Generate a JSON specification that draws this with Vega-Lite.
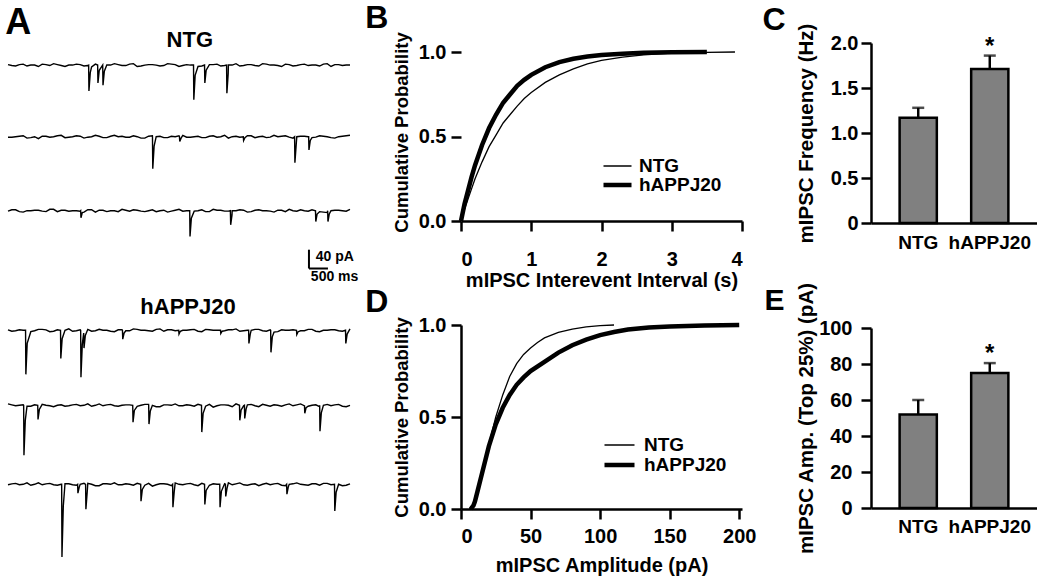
{
"$schema": "https://vega.github.io/schema/vega-lite/v6.json",
"background": "white",
"padding": {"left": 5, "top": 2, "right": 0, "bottom": 0},
"config": {
  "view": {"stroke": null},
  "font": "Liberation Sans",
  "title": {"font": "Liberation Sans", "fontWeight": "bold", "color": "black"},
  "axis": {"labelFont": "Liberation Sans", "labelFontWeight": "bold", "labelFontSize": 20, "labelColor": "black",
           "titleFont": "Liberation Sans", "titleFontWeight": "bold", "titleFontSize": 20, "titleColor": "black",
           "domainColor": "black", "domainWidth": 2.5, "tickColor": "black", "tickWidth": 2.5, "tickSize": 10, "grid": false},
  "legend": {"labelFont": "Liberation Sans", "labelFontWeight": "bold", "labelFontSize": 19, "labelColor": "black"}
},
"datasets": {
  "N1": [{"t":0,"v":1},{"t":200,"v":-2},{"t":400,"v":2},{"t":600,"v":0},{"t":800,"v":-3},{"t":1000,"v":1},{"t":1200,"v":3},{"t":1400,"v":-1},{"t":1600,"v":0},{"t":1800,"v":2},{"t":2000,"v":-2},{"t":2200,"v":-4},{"t":2600,"v":0},{"t":2800,"v":3},{"t":3000,"v":-1},{"t":3200,"v":2},{"t":3400,"v":-3},{"t":3600,"v":0},{"t":3800,"v":1},{"t":4000,"v":-2},{"t":4200,"v":3},{"t":4400,"v":1},{"t":4600,"v":-1},{"t":4800,"v":0},{"t":5000,"v":-3},{"t":5400,"v":1},{"t":5600,"v":-2},{"t":5800,"v":0},{"t":6000,"v":3},{"t":6200,"v":-1},{"t":6400,"v":1},{"t":6600,"v":-2},{"t":6800,"v":2},{"t":7000,"v":0},{"t":7200,"v":-3},{"t":7400,"v":1},{"t":7600,"v":-1},{"t":7800,"v":2},{"t":8000,"v":0},{"t":8200,"v":-2},{"t":8400,"v":3},{"t":8600,"v":1},{"t":8800,"v":-1},{"t":9000,"v":0},
    {"t":100,"v":-1},{"t":300,"v":1},{"t":500,"v":-2},{"t":700,"v":0},{"t":900,"v":2},{"t":1100,"v":-1},{"t":1300,"v":1},{"t":1500,"v":-3},{"t":1700,"v":0},{"t":1900,"v":1},{"t":2100,"v":-1},{"t":2300,"v":2},{"t":2700,"v":0},{"t":2900,"v":1},{"t":3100,"v":-1},{"t":3300,"v":3},{"t":3500,"v":-2},{"t":3700,"v":1},{"t":3900,"v":0},{"t":4100,"v":-1},{"t":4300,"v":2},{"t":4500,"v":-3},{"t":4700,"v":1},{"t":5100,"v":-2},{"t":5300,"v":1},{"t":5500,"v":2},{"t":5700,"v":-1},{"t":5900,"v":0},{"t":6100,"v":-2},{"t":6300,"v":1},{"t":6500,"v":-1},{"t":6700,"v":3},{"t":6900,"v":0},{"t":7100,"v":-1},{"t":7300,"v":2},{"t":7500,"v":-2},{"t":7700,"v":1},{"t":7900,"v":-1},{"t":8100,"v":0},{"t":8300,"v":2},{"t":8500,"v":-3},{"t":8700,"v":1},{"t":8900,"v":0},
    {"t":2122,"v":0},{"t":2130,"v":-55},{"t":2165,"v":-16},{"t":2359,"v":0},{"t":2367,"v":-38},{"t":2402,"v":-11},{"t":2492,"v":0},{"t":2500,"v":-43},{"t":2535,"v":-13},{"t":4882,"v":0},{"t":4890,"v":-74},{"t":4925,"v":-22},{"t":5172,"v":0},{"t":5180,"v":-38},{"t":5215,"v":-11},{"t":5752,"v":0},{"t":5760,"v":-60},{"t":5795,"v":-18}],
  "N2": [{"t":0,"v":-1},{"t":200,"v":0},{"t":400,"v":2},{"t":600,"v":-2},{"t":800,"v":-4},{"t":1000,"v":1},{"t":1200,"v":0},{"t":1400,"v":3},{"t":1600,"v":-1},{"t":1800,"v":2},{"t":2000,"v":-3},{"t":2200,"v":0},{"t":2400,"v":1},{"t":2600,"v":-2},{"t":2800,"v":3},{"t":3000,"v":1},{"t":3200,"v":-1},{"t":3400,"v":0},{"t":3600,"v":-3},{"t":3800,"v":2},{"t":4000,"v":1},{"t":4200,"v":-2},{"t":4400,"v":0},{"t":4600,"v":3},{"t":4800,"v":-1},{"t":5000,"v":1},{"t":5200,"v":-2},{"t":5400,"v":2},{"t":5600,"v":0},{"t":5800,"v":-3},{"t":6000,"v":1},{"t":6400,"v":2},{"t":6600,"v":0},{"t":6800,"v":-2},{"t":7000,"v":3},{"t":7200,"v":1},{"t":7400,"v":-1},{"t":7600,"v":0},{"t":7800,"v":1},{"t":8000,"v":-2},{"t":8200,"v":2},{"t":8400,"v":0},{"t":8600,"v":-3},{"t":8800,"v":1},{"t":9000,"v":3},
    {"t":100,"v":-1},{"t":300,"v":1},{"t":500,"v":-3},{"t":700,"v":0},{"t":900,"v":1},{"t":1100,"v":-1},{"t":1300,"v":2},{"t":1500,"v":-2},{"t":1700,"v":0},{"t":1900,"v":1},{"t":2100,"v":-1},{"t":2300,"v":3},{"t":2500,"v":-2},{"t":2700,"v":1},{"t":2900,"v":0},{"t":3100,"v":-1},{"t":3300,"v":2},{"t":3500,"v":-3},{"t":3700,"v":1},{"t":3900,"v":0},{"t":4100,"v":-2},{"t":4300,"v":1},{"t":4500,"v":2},{"t":4700,"v":-1},{"t":4900,"v":0},{"t":5100,"v":-2},{"t":5300,"v":1},{"t":5500,"v":-1},{"t":5700,"v":3},{"t":5900,"v":0},{"t":6100,"v":-1},{"t":6300,"v":2},{"t":6500,"v":-2},{"t":6700,"v":1},{"t":6900,"v":-1},{"t":7100,"v":0},{"t":7300,"v":2},{"t":7500,"v":-3},{"t":7700,"v":1},{"t":7900,"v":0},{"t":8100,"v":-1},{"t":8300,"v":1},{"t":8500,"v":-2},{"t":8700,"v":0},{"t":8900,"v":2},
    {"t":3802,"v":0},{"t":3810,"v":-68},{"t":3845,"v":-20},{"t":4512,"v":0},{"t":4520,"v":-10},{"t":4555,"v":-3},{"t":6192,"v":0},{"t":6200,"v":-8},{"t":6235,"v":-2},{"t":7542,"v":0},{"t":7550,"v":-55},{"t":7585,"v":-16},{"t":7912,"v":0},{"t":7920,"v":-28},{"t":7955,"v":-8}],
  "N3": [{"t":0,"v":-1},{"t":200,"v":2},{"t":400,"v":-3},{"t":600,"v":0},{"t":800,"v":1},{"t":1000,"v":-2},{"t":1200,"v":3},{"t":1400,"v":1},{"t":1600,"v":-1},{"t":1800,"v":0},{"t":2000,"v":-3},{"t":2200,"v":2},{"t":2400,"v":1},{"t":2600,"v":-2},{"t":2800,"v":0},{"t":3000,"v":3},{"t":3200,"v":-1},{"t":3400,"v":1},{"t":3600,"v":-2},{"t":3800,"v":2},{"t":4000,"v":0},{"t":4200,"v":-3},{"t":4400,"v":1},{"t":4600,"v":-1},{"t":5000,"v":0},{"t":5200,"v":-2},{"t":5400,"v":3},{"t":5600,"v":1},{"t":5800,"v":-1},{"t":6000,"v":0},{"t":6200,"v":1},{"t":6400,"v":-2},{"t":6600,"v":2},{"t":6800,"v":0},{"t":7000,"v":-3},{"t":7200,"v":1},{"t":7400,"v":3},{"t":7600,"v":-1},{"t":7800,"v":0},{"t":8000,"v":2},{"t":8200,"v":-2},{"t":8400,"v":-4},{"t":8600,"v":1},{"t":8800,"v":0},{"t":9000,"v":3},
    {"t":100,"v":2},{"t":300,"v":-2},{"t":500,"v":0},{"t":700,"v":1},{"t":900,"v":-1},{"t":1100,"v":3},{"t":1300,"v":-2},{"t":1500,"v":1},{"t":1700,"v":0},{"t":1900,"v":-1},{"t":2100,"v":2},{"t":2300,"v":-3},{"t":2500,"v":1},{"t":2700,"v":0},{"t":2900,"v":-2},{"t":3100,"v":1},{"t":3300,"v":2},{"t":3500,"v":-1},{"t":3700,"v":0},{"t":3900,"v":-2},{"t":4100,"v":1},{"t":4300,"v":-1},{"t":4500,"v":3},{"t":4700,"v":0},{"t":4900,"v":-1},{"t":5100,"v":2},{"t":5300,"v":-2},{"t":5500,"v":1},{"t":5700,"v":-1},{"t":5900,"v":0},{"t":6100,"v":2},{"t":6300,"v":-3},{"t":6500,"v":1},{"t":6700,"v":0},{"t":6900,"v":-1},{"t":7100,"v":1},{"t":7300,"v":-2},{"t":7500,"v":0},{"t":7700,"v":2},{"t":7900,"v":-1},{"t":8300,"v":-3},{"t":8500,"v":0},{"t":8700,"v":1},{"t":8900,"v":-1},
    {"t":1912,"v":0},{"t":1920,"v":-15},{"t":1955,"v":-4},{"t":4782,"v":0},{"t":4790,"v":-55},{"t":4825,"v":-16},{"t":5852,"v":0},{"t":5860,"v":-30},{"t":5895,"v":-9},{"t":8092,"v":0},{"t":8100,"v":-23},{"t":8135,"v":-7},{"t":8412,"v":0},{"t":8420,"v":-23},{"t":8455,"v":-7}],
  "H1": [{"t":0,"v":1},{"t":200,"v":-1},{"t":400,"v":0},{"t":600,"v":-3},{"t":800,"v":2},{"t":1000,"v":1},{"t":1200,"v":-2},{"t":1600,"v":3},{"t":1800,"v":-1},{"t":2200,"v":-2},{"t":2400,"v":2},{"t":2600,"v":0},{"t":2800,"v":-3},{"t":3000,"v":1},{"t":3200,"v":-1},{"t":3400,"v":2},{"t":3600,"v":0},{"t":3800,"v":-2},{"t":4000,"v":3},{"t":4200,"v":1},{"t":4400,"v":-1},{"t":4600,"v":0},{"t":4800,"v":1},{"t":5000,"v":-2},{"t":5200,"v":2},{"t":5400,"v":0},{"t":5800,"v":1},{"t":6000,"v":3},{"t":6200,"v":-1},{"t":6400,"v":0},{"t":6600,"v":2},{"t":6800,"v":-2},{"t":7000,"v":-4},{"t":7200,"v":1},{"t":7400,"v":0},{"t":7800,"v":-1},{"t":8000,"v":2},{"t":8200,"v":-3},{"t":8400,"v":0},{"t":8600,"v":1},{"t":8800,"v":-2},{"t":9000,"v":3},
    {"t":100,"v":-2},{"t":300,"v":1},{"t":700,"v":-1},{"t":900,"v":2},{"t":1100,"v":-3},{"t":1300,"v":1},{"t":1500,"v":0},{"t":1700,"v":-2},{"t":1900,"v":1},{"t":2100,"v":2},{"t":2300,"v":-1},{"t":2500,"v":0},{"t":2700,"v":-2},{"t":2900,"v":1},{"t":3100,"v":-1},{"t":3300,"v":3},{"t":3500,"v":0},{"t":3700,"v":-1},{"t":3900,"v":2},{"t":4100,"v":-2},{"t":4300,"v":1},{"t":4700,"v":0},{"t":4900,"v":2},{"t":5100,"v":-3},{"t":5300,"v":1},{"t":5500,"v":0},{"t":5700,"v":-1},{"t":5900,"v":1},{"t":6100,"v":-2},{"t":6300,"v":0},{"t":6500,"v":2},{"t":6700,"v":-1},{"t":6900,"v":1},{"t":7100,"v":-3},{"t":7300,"v":0},{"t":7500,"v":1},{"t":7700,"v":-1},{"t":7900,"v":2},{"t":8100,"v":-2},{"t":8300,"v":0},{"t":8500,"v":1},{"t":8700,"v":-1},
    {"t":462,"v":0},{"t":470,"v":-94},{"t":505,"v":-28},{"t":1382,"v":0},{"t":1390,"v":-60},{"t":1425,"v":-18},{"t":1912,"v":0},{"t":1920,"v":-100},{"t":1955,"v":-30},{"t":1992,"v":-6},{"t":2000,"v":-38},{"t":2035,"v":-11},{"t":3012,"v":0},{"t":3020,"v":-19},{"t":3055,"v":-6},{"t":4492,"v":0},{"t":4500,"v":-8},{"t":4535,"v":-2},{"t":5592,"v":0},{"t":5600,"v":-7},{"t":5635,"v":-2},{"t":6332,"v":0},{"t":6340,"v":-28},{"t":6375,"v":-8},{"t":6912,"v":0},{"t":6920,"v":-47},{"t":6955,"v":-14},{"t":7592,"v":0},{"t":7600,"v":-9},{"t":7635,"v":-3},{"t":8882,"v":0},{"t":8890,"v":-28},{"t":8925,"v":-8}],
  "H2": [{"t":0,"v":3},{"t":200,"v":-1},{"t":400,"v":1},{"t":600,"v":-2},{"t":1000,"v":0},{"t":1200,"v":-3},{"t":1400,"v":1},{"t":1600,"v":-1},{"t":1800,"v":2},{"t":2000,"v":0},{"t":2200,"v":-2},{"t":2400,"v":3},{"t":2600,"v":1},{"t":2800,"v":-1},{"t":3000,"v":0},{"t":3200,"v":1},{"t":3400,"v":-2},{"t":3600,"v":2},{"t":3800,"v":0},{"t":4000,"v":-3},{"t":4200,"v":1},{"t":4400,"v":3},{"t":4600,"v":-1},{"t":4800,"v":0},{"t":5000,"v":2},{"t":5200,"v":-2},{"t":5400,"v":-4},{"t":5600,"v":1},{"t":5800,"v":0},{"t":6000,"v":3},{"t":6200,"v":-1},{"t":6400,"v":2},{"t":6600,"v":-3},{"t":6800,"v":0},{"t":7000,"v":1},{"t":7200,"v":-2},{"t":7400,"v":3},{"t":7600,"v":1},{"t":7800,"v":-1},{"t":8000,"v":0},{"t":8200,"v":-3},{"t":8400,"v":2},{"t":8600,"v":1},{"t":8800,"v":-2},{"t":9000,"v":0},
    {"t":100,"v":1},{"t":300,"v":0},{"t":500,"v":-2},{"t":700,"v":1},{"t":900,"v":2},{"t":1100,"v":-1},{"t":1300,"v":0},{"t":1500,"v":-2},{"t":1700,"v":1},{"t":1900,"v":-1},{"t":2100,"v":3},{"t":2300,"v":0},{"t":2500,"v":-1},{"t":2700,"v":2},{"t":2900,"v":-2},{"t":3100,"v":1},{"t":3500,"v":0},{"t":3700,"v":2},{"t":3900,"v":-3},{"t":4100,"v":1},{"t":4300,"v":0},{"t":4500,"v":-1},{"t":4700,"v":1},{"t":4900,"v":-2},{"t":5300,"v":2},{"t":5500,"v":-1},{"t":5700,"v":1},{"t":5900,"v":-3},{"t":6300,"v":1},{"t":6500,"v":-1},{"t":6700,"v":2},{"t":6900,"v":-2},{"t":7100,"v":0},{"t":7300,"v":1},{"t":7500,"v":-1},{"t":7700,"v":3},{"t":7900,"v":-2},{"t":8100,"v":1},{"t":8300,"v":0},{"t":8500,"v":-1},{"t":8700,"v":2},{"t":8900,"v":-3},
    {"t":412,"v":0},{"t":420,"v":-106},{"t":455,"v":-32},{"t":782,"v":0},{"t":790,"v":-30},{"t":825,"v":-9},{"t":3282,"v":0},{"t":3290,"v":-36},{"t":3325,"v":-11},{"t":3702,"v":0},{"t":3710,"v":-40},{"t":3745,"v":-12},{"t":5092,"v":0},{"t":5100,"v":-57},{"t":5135,"v":-17},{"t":6092,"v":0},{"t":6100,"v":-32},{"t":6135,"v":-10},{"t":6222,"v":0},{"t":6230,"v":-28},{"t":6265,"v":-8},{"t":7802,"v":0},{"t":7810,"v":-17},{"t":7845,"v":-5},{"t":8202,"v":0},{"t":8210,"v":-55},{"t":8245,"v":-16}],
  "H3": [{"t":0,"v":-1},{"t":200,"v":2},{"t":400,"v":0},{"t":600,"v":-2},{"t":800,"v":3},{"t":1000,"v":1},{"t":1200,"v":-1},{"t":1400,"v":0},{"t":1600,"v":1},{"t":1800,"v":-2},{"t":2000,"v":2},{"t":2200,"v":0},{"t":2400,"v":-3},{"t":2600,"v":1},{"t":2800,"v":3},{"t":3000,"v":-1},{"t":3200,"v":0},{"t":3400,"v":2},{"t":3600,"v":-2},{"t":3800,"v":-4},{"t":4000,"v":1},{"t":4200,"v":0},{"t":4400,"v":3},{"t":4600,"v":-1},{"t":4800,"v":2},{"t":5000,"v":-3},{"t":5400,"v":1},{"t":5800,"v":3},{"t":6000,"v":1},{"t":6200,"v":-1},{"t":6400,"v":0},{"t":6600,"v":-3},{"t":6800,"v":2},{"t":7000,"v":1},{"t":7200,"v":-2},{"t":7400,"v":0},{"t":7600,"v":3},{"t":7800,"v":-1},{"t":8000,"v":1},{"t":8200,"v":-2},{"t":8400,"v":2},{"t":8800,"v":-3},{"t":9000,"v":1},
    {"t":100,"v":1},{"t":300,"v":-1},{"t":500,"v":3},{"t":700,"v":0},{"t":900,"v":-1},{"t":1100,"v":2},{"t":1300,"v":-2},{"t":1500,"v":1},{"t":1700,"v":-1},{"t":1900,"v":0},{"t":2100,"v":2},{"t":2300,"v":-3},{"t":2500,"v":1},{"t":2700,"v":0},{"t":2900,"v":-1},{"t":3100,"v":1},{"t":3300,"v":-2},{"t":3700,"v":2},{"t":3900,"v":-1},{"t":4100,"v":1},{"t":4300,"v":-3},{"t":4500,"v":0},{"t":4700,"v":1},{"t":4900,"v":-1},{"t":5100,"v":2},{"t":5300,"v":-2},{"t":5500,"v":0},{"t":5700,"v":1},{"t":5900,"v":-1},{"t":6100,"v":3},{"t":6300,"v":-2},{"t":6500,"v":1},{"t":6700,"v":0},{"t":6900,"v":-1},{"t":7100,"v":2},{"t":7300,"v":-3},{"t":7500,"v":1},{"t":7700,"v":0},{"t":7900,"v":-2},{"t":8100,"v":1},{"t":8300,"v":2},{"t":8500,"v":-1},{"t":8700,"v":0},{"t":8900,"v":-2},
    {"t":1412,"v":0},{"t":1420,"v":-155},{"t":1455,"v":-47},{"t":1832,"v":0},{"t":1840,"v":-19},{"t":1875,"v":-6},{"t":2042,"v":0},{"t":2050,"v":-53},{"t":2085,"v":-16},{"t":3492,"v":0},{"t":3500,"v":-36},{"t":3535,"v":-11},{"t":4332,"v":0},{"t":4340,"v":-49},{"t":4375,"v":-15},{"t":5172,"v":0},{"t":5180,"v":-43},{"t":5215,"v":-13},{"t":5572,"v":0},{"t":5580,"v":-49},{"t":5615,"v":-15},{"t":5722,"v":0},{"t":5730,"v":-26},{"t":5765,"v":-8},{"t":7332,"v":0},{"t":7340,"v":-21},{"t":7375,"v":-6},{"t":8592,"v":0},{"t":8600,"v":-57},{"t":8635,"v":-17}],
  "scalebar": [{"t":7920,"t2":7920,"v":-83,"v2":-123},{"t":7920,"t2":8420,"v":-123,"v2":-123}],
  "scalelabels": [{"t":8100,"v":-98,"label":"40 pA"},{"t":7970,"v":-142,"label":"500 ms"}],
  "iei": [{"g":"NTG","x":0,"p":0},{"g":"NTG","x":0.05,"p":0.07},{"g":"NTG","x":0.1,"p":0.13},{"g":"NTG","x":0.15,"p":0.19},{"g":"NTG","x":0.2,"p":0.25},{"g":"NTG","x":0.3,"p":0.35},{"g":"NTG","x":0.4,"p":0.44},{"g":"NTG","x":0.5,"p":0.51},{"g":"NTG","x":0.6,"p":0.58},{"g":"NTG","x":0.7,"p":0.63},{"g":"NTG","x":0.8,"p":0.68},{"g":"NTG","x":0.9,"p":0.725},{"g":"NTG","x":1.0,"p":0.76},{"g":"NTG","x":1.2,"p":0.82},{"g":"NTG","x":1.4,"p":0.865},{"g":"NTG","x":1.6,"p":0.9},{"g":"NTG","x":1.8,"p":0.93},{"g":"NTG","x":2.0,"p":0.95},{"g":"NTG","x":2.3,"p":0.97},{"g":"NTG","x":2.6,"p":0.983},{"g":"NTG","x":3.0,"p":0.993},{"g":"NTG","x":3.5,"p":0.998},{"g":"NTG","x":3.9,"p":1.0},
    {"g":"hAPPJ20","x":0,"p":0},{"g":"hAPPJ20","x":0.05,"p":0.1},{"g":"hAPPJ20","x":0.1,"p":0.18},{"g":"hAPPJ20","x":0.15,"p":0.26},{"g":"hAPPJ20","x":0.2,"p":0.33},{"g":"hAPPJ20","x":0.3,"p":0.45},{"g":"hAPPJ20","x":0.4,"p":0.55},{"g":"hAPPJ20","x":0.5,"p":0.63},{"g":"hAPPJ20","x":0.6,"p":0.7},{"g":"hAPPJ20","x":0.7,"p":0.75},{"g":"hAPPJ20","x":0.8,"p":0.8},{"g":"hAPPJ20","x":0.9,"p":0.835},{"g":"hAPPJ20","x":1.0,"p":0.865},{"g":"hAPPJ20","x":1.2,"p":0.91},{"g":"hAPPJ20","x":1.4,"p":0.94},{"g":"hAPPJ20","x":1.6,"p":0.96},{"g":"hAPPJ20","x":1.8,"p":0.973},{"g":"hAPPJ20","x":2.0,"p":0.982},{"g":"hAPPJ20","x":2.3,"p":0.99},{"g":"hAPPJ20","x":2.6,"p":0.995},{"g":"hAPPJ20","x":3.0,"p":0.998},{"g":"hAPPJ20","x":3.5,"p":1.0}],
  "amp": [{"g":"NTG","x":6,"p":0},{"g":"NTG","x":8,"p":0.01},{"g":"NTG","x":10,"p":0.05},{"g":"NTG","x":12,"p":0.1},{"g":"NTG","x":15,"p":0.19},{"g":"NTG","x":20,"p":0.35},{"g":"NTG","x":25,"p":0.5},{"g":"NTG","x":30,"p":0.62},{"g":"NTG","x":35,"p":0.72},{"g":"NTG","x":40,"p":0.79},{"g":"NTG","x":45,"p":0.84},{"g":"NTG","x":50,"p":0.875},{"g":"NTG","x":55,"p":0.905},{"g":"NTG","x":60,"p":0.93},{"g":"NTG","x":70,"p":0.96},{"g":"NTG","x":80,"p":0.978},{"g":"NTG","x":90,"p":0.99},{"g":"NTG","x":100,"p":0.997},{"g":"NTG","x":110,"p":1.0},
    {"g":"hAPPJ20","x":7,"p":0},{"g":"hAPPJ20","x":9,"p":0.02},{"g":"hAPPJ20","x":10,"p":0.04},{"g":"hAPPJ20","x":12,"p":0.1},{"g":"hAPPJ20","x":15,"p":0.19},{"g":"hAPPJ20","x":20,"p":0.34},{"g":"hAPPJ20","x":25,"p":0.46},{"g":"hAPPJ20","x":30,"p":0.55},{"g":"hAPPJ20","x":35,"p":0.62},{"g":"hAPPJ20","x":40,"p":0.675},{"g":"hAPPJ20","x":45,"p":0.715},{"g":"hAPPJ20","x":50,"p":0.75},{"g":"hAPPJ20","x":60,"p":0.8},{"g":"hAPPJ20","x":70,"p":0.85},{"g":"hAPPJ20","x":80,"p":0.89},{"g":"hAPPJ20","x":90,"p":0.92},{"g":"hAPPJ20","x":100,"p":0.945},{"g":"hAPPJ20","x":110,"p":0.962},{"g":"hAPPJ20","x":120,"p":0.975},{"g":"hAPPJ20","x":135,"p":0.986},{"g":"hAPPJ20","x":150,"p":0.992},{"g":"hAPPJ20","x":175,"p":0.997},{"g":"hAPPJ20","x":200,"p":1.0}],
  "freq": [{"g":"NTG","v":1.17,"e":1.28,"s":""},{"g":"hAPPJ20","v":1.71,"e":1.86,"s":"*"}],
  "amp25": [{"g":"NTG","v":52,"e":60,"s":""},{"g":"hAPPJ20","v":75,"e":80.5,"s":"*"}]
},
"spacing": 6,
"align": "each",
"resolve": {"scale": {"strokeWidth": "independent"}, "legend": {"strokeWidth": "independent"}},
"hconcat": [
  {
    "title": {"text": "A", "anchor": "start", "fontSize": 36, "offset": -12.9},
    "spacing": 3.6,
    "align": "each",
    "vconcat": [
      {
        "title": {"text": "NTG", "fontSize": 22, "anchor": "middle", "frame": "bounds", "dx": 8, "offset": -9},
        "spacing": 0,
        "bounds": "flush",
        "vconcat": [
          {"width": 342, "height": 89, "data": {"name": "N1"}, "mark": {"type": "line", "color": "black", "strokeWidth": 1.4},
           "encoding": {"x": {"field": "t", "type": "quantitative", "scale": {"domain": [0, 9000], "nice": false}, "axis": null},
                        "y": {"field": "v", "type": "quantitative", "scale": {"domain": [-142.5, 47], "nice": false}, "axis": null}}},
          {"width": 342, "height": 74, "data": {"name": "N2"}, "mark": {"type": "line", "color": "black", "strokeWidth": 1.4},
           "encoding": {"x": {"field": "t", "type": "quantitative", "scale": {"domain": [0, 9000], "nice": false}, "axis": null},
                        "y": {"field": "v", "type": "quantitative", "scale": {"domain": [-147, 10], "nice": false}, "axis": null}}},
          {"width": 342, "height": 86,
           "encoding": {"x": {"field": "t", "type": "quantitative", "scale": {"domain": [0, 9000], "nice": false}, "axis": null},
                        "y": {"field": "v", "type": "quantitative", "scale": {"domain": [-173, 10], "nice": false}, "axis": null}},
           "layer": [
             {"data": {"name": "N3"}, "mark": {"type": "line", "color": "black", "strokeWidth": 1.4}},
             {"data": {"name": "scalebar"}, "mark": {"type": "rule", "color": "black", "strokeWidth": 2},
              "encoding": {"x2": {"field": "t2"}, "y2": {"field": "v2"}}},
             {"data": {"name": "scalelabels"}, "mark": {"type": "text", "align": "left", "baseline": "middle", "fontSize": 14, "fontWeight": "bold", "font": "Liberation Sans", "color": "black"},
              "encoding": {"text": {"field": "label"}}}
           ]}
        ]
      },
      {
        "title": {"text": "hAPPJ20", "fontSize": 22, "anchor": "middle", "frame": "bounds", "dx": 9, "offset": 6.7},
        "spacing": 0,
        "bounds": "flush",
        "vconcat": [
          {"width": 342, "height": 75, "data": {"name": "H1"}, "mark": {"type": "line", "color": "black", "strokeWidth": 1.4},
           "encoding": {"x": {"field": "t", "type": "quantitative", "scale": {"domain": [0, 9000], "nice": false}, "axis": null},
                        "y": {"field": "v", "type": "quantitative", "scale": {"domain": [-150, 10], "nice": false}, "axis": null}}},
          {"width": 342, "height": 79, "data": {"name": "H2"}, "mark": {"type": "line", "color": "black", "strokeWidth": 1.4},
           "encoding": {"x": {"field": "t", "type": "quantitative", "scale": {"domain": [0, 9000], "nice": false}, "axis": null},
                        "y": {"field": "v", "type": "quantitative", "scale": {"domain": [-158, 10], "nice": false}, "axis": null}}},
          {"width": 342, "height": 82, "data": {"name": "H3"}, "mark": {"type": "line", "color": "black", "strokeWidth": 1.4},
           "encoding": {"x": {"field": "t", "type": "quantitative", "scale": {"domain": [0, 9000], "nice": false}, "axis": null},
                        "y": {"field": "v", "type": "quantitative", "scale": {"domain": [-165, 10], "nice": false}, "axis": null}}}
        ]
      }
    ]
  },
  {
    "spacing": 104,
    "bounds": "flush",
    "resolve": {"scale": {"strokeWidth": "independent"}, "legend": {"strokeWidth": "independent"}},
    "vconcat": [
      {"width": 281, "height": 178,
       "title": {"text": "B", "anchor": "start", "frame": "bounds", "fontSize": 32, "offset": -3.7, "dx": -27},
       "encoding": {
         "x": {"field": "x", "type": "quantitative", "scale": {"domain": [0, 4], "nice": false},
               "axis": {"values": [0, 1, 2, 3, 4], "title": "mIPSC Interevent Interval (s)", "labelPadding": 18.5, "titlePadding": 1}},
         "y": {"field": "p", "type": "quantitative", "scale": {"domain": [0, 1.0533], "nice": false},
               "axis": {"values": [0, 0.5, 1], "format": ".1f", "title": "Cumulative Probability", "titleFontSize": 18.5, "domain": false, "labelPadding": 5, "titlePadding": 7}}
       },
       "layer": [
         {"mark": {"type": "rule", "color": "black", "strokeWidth": 2.5, "strokeCap": "square"},
          "encoding": {"x": {"datum": 0}, "y": {"datum": 0}, "y2": {"datum": 1}}},
         {"data": {"name": "iei"},
          "mark": {"type": "line", "color": "black"},
          "encoding": {
            "strokeWidth": {"field": "g", "type": "ordinal", "scale": {"domain": ["NTG", "hAPPJ20"], "range": [1.3, 4.5]},
               "legend": {"orient": "none", "legendX": 140, "legendY": 114, "padding": 0, "title": null, "symbolType": "stroke", "symbolSize": 784, "symbolStrokeColor": "black", "clipHeight": 18, "rowPadding": 0, "labelOffset": 5}}
          }}
       ]},
      {"width": 281, "height": 184,
       "title": {"text": "D", "anchor": "start", "frame": "bounds", "fontSize": 32, "offset": -3.7, "dx": -27},
       "data": {"name": "amp"},
       "mark": {"type": "line", "color": "black"},
       "encoding": {
         "x": {"field": "x", "type": "quantitative", "scale": {"domain": [0, 202], "nice": false},
               "axis": {"values": [0, 50, 100, 150, 200], "title": "mIPSC Amplitude (pA)", "labelPadding": 7.5, "titlePadding": 9}},
         "y": {"field": "p", "type": "quantitative", "scale": {"domain": [0, 1], "nice": false},
               "axis": {"values": [0, 0.5, 1], "format": ".1f", "title": "Cumulative Probability", "titleFontSize": 18.5, "labelPadding": 5, "titlePadding": 7}},
         "strokeWidth": {"field": "g", "type": "ordinal", "scale": {"domain": ["NTG", "hAPPJ20"], "range": [1.3, 4.5]},
               "legend": {"orient": "none", "legendX": 141, "legendY": 110, "padding": 0, "title": null, "symbolType": "stroke", "symbolSize": 900, "symbolStrokeColor": "black", "clipHeight": 20, "rowPadding": 0, "labelOffset": 7}}
       }}
    ]
  },
  {
    "spacing": 105,
    "bounds": "flush",
    "vconcat": [
      {"width": 166, "height": 180,
       "title": {"text": "C", "anchor": "start", "frame": "bounds", "fontSize": 32, "offset": -13.6, "dx": -34},
       "data": {"name": "freq"},
       "encoding": {
         "x": {"field": "g", "type": "nominal", "sort": ["NTG", "hAPPJ20"], "scale": {"paddingInner": 0.48, "paddingOuter": 0.4},
               "axis": {"title": null, "labelAngle": 0, "ticks": false, "tickSize": 0, "labelPadding": 10.5, "labelFontSize": 19}},
         "y": {"field": "v", "type": "quantitative", "scale": {"domain": [0, 2], "nice": false},
               "axis": {"values": [0, 0.5, 1, 1.5, 2], "labelExpr": "datum.value == 0 ? '0' : format(datum.value, '.1f')", "title": "mIPSC Frequency (Hz)", "titleFontSize": 20.5, "labelPadding": 3, "titlePadding": 13.7}}
       },
       "layer": [
         {"mark": {"type": "bar", "fill": "#808080", "stroke": "black", "strokeWidth": 2.5}},
         {"mark": {"type": "rule", "color": "black", "strokeWidth": 2.5}, "encoding": {"y2": {"field": "e"}}},
         {"mark": {"type": "tick", "orient": "horizontal", "color": "black", "size": 12, "thickness": 2.5}, "encoding": {"y": {"field": "e", "type": "quantitative"}}},
         {"mark": {"type": "text", "baseline": "middle", "fontSize": 24, "fontWeight": "bold", "dy": -9, "color": "black"}, "encoding": {"y": {"field": "e", "type": "quantitative"}, "text": {"field": "s"}}}
       ]},
      {"width": 166, "height": 180,
       "title": {"text": "E", "anchor": "start", "frame": "bounds", "fontSize": 30, "offset": -34, "dx": -32},
       "data": {"name": "amp25"},
       "encoding": {
         "x": {"field": "g", "type": "nominal", "sort": ["NTG", "hAPPJ20"], "scale": {"paddingInner": 0.48, "paddingOuter": 0.4},
               "axis": {"title": null, "labelAngle": 0, "ticks": false, "tickSize": 0, "labelPadding": 9, "labelFontSize": 19}},
         "y": {"field": "v", "type": "quantitative", "scale": {"domain": [0, 100], "nice": false},
               "axis": {"values": [0, 20, 40, 60, 80, 100], "title": "mIPSC Amp. (Top 25%) (pA)", "titleFontSize": 20.5, "labelPadding": 9, "titlePadding": 2.1}}
       },
       "layer": [
         {"mark": {"type": "bar", "fill": "#808080", "stroke": "black", "strokeWidth": 2.5}},
         {"mark": {"type": "rule", "color": "black", "strokeWidth": 2.5}, "encoding": {"y2": {"field": "e"}}},
         {"mark": {"type": "tick", "orient": "horizontal", "color": "black", "size": 12, "thickness": 2.5}, "encoding": {"y": {"field": "e", "type": "quantitative"}}},
         {"mark": {"type": "text", "baseline": "middle", "fontSize": 24, "fontWeight": "bold", "dy": -9, "color": "black"}, "encoding": {"y": {"field": "e", "type": "quantitative"}, "text": {"field": "s"}}}
       ]}
    ]
  }
]
}
